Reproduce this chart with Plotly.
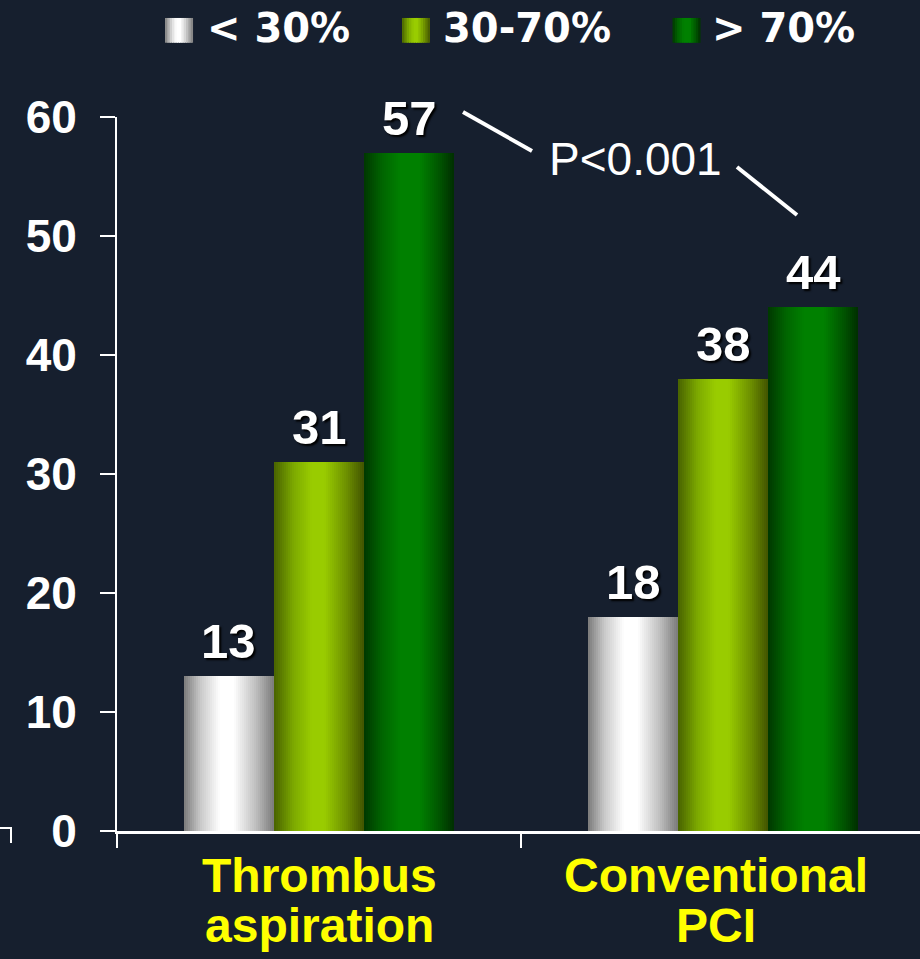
import plotly.graph_objects as go

# ---- data -------------------------------------------------------------
groups = ["Thrombus", "Conventional"]
group_lines = [["Thrombus", "aspiration"], ["Conventional", "PCI"]]
series_names = ["< 30%", "30-70%", "> 70%"]
below_30 = [13, 18]
between_30_70 = [31, 38]
above_70 = [57, 44]
y_ticks = [0, 10, 20, 30, 40, 50, 60]
p_value_text = "P<0.001"

series_values = [below_30, between_30_70, above_70]

# ---- styling ----------------------------------------------------------
BG = "#161f2e"
ARIAL = "Liberation Sans, Arial, sans-serif"
WIDE = "DejaVu Sans, Verdana, sans-serif"

# cylinder-like horizontal shading for each series: (position, rgb)
shading = [
    [(0.0, (122, 122, 122)), (0.18, (200, 200, 200)), (0.40, (255, 255, 255)),
     (0.55, (255, 255, 255)), (0.80, (190, 190, 190)), (1.0, (122, 122, 122))],
    [(0.0, (72, 98, 0)), (0.22, (125, 170, 0)), (0.42, (153, 204, 0)),
     (0.56, (153, 204, 0)), (0.80, (110, 145, 0)), (1.0, (66, 84, 0))],
    [(0.0, (0, 56, 0)), (0.20, (0, 100, 0)), (0.40, (0, 128, 0)),
     (0.62, (0, 128, 0)), (0.85, (0, 82, 0)), (1.0, (0, 46, 0))],
]

BAR_W = 0.223
series_offsets = [-BAR_W, 0.0, BAR_W]
N_SLICES = 45
label_xshift = [0, -7]


def shade(stops, t):
    for (p0, c0), (p1, c1) in zip(stops[:-1], stops[1:]):
        if p0 <= t <= p1:
            f = (t - p0) / (p1 - p0) if p1 > p0 else 0
            return "rgb(%d,%d,%d)" % tuple(round(a + (b - a) * f) for a, b in zip(c0, c1))
    return "rgb(%d,%d,%d)" % stops[-1][1]


x_pos = list(range(len(groups)))
fig = go.Figure()

# bars, drawn as thin vertical slices to build the shading
step = BAR_W / N_SLICES
for s, vals in enumerate(series_values):
    left = series_offsets[s] - BAR_W / 2
    for i in range(N_SLICES):
        t = (i + 0.5) / N_SLICES
        w = step if i == N_SLICES - 1 else step * 1.6
        fig.add_trace(go.Bar(
            x=x_pos, y=vals, width=w, offset=left + i * step,
            marker=dict(color=shade(shading[s], t), line=dict(width=0)),
            showlegend=False, hoverinfo="skip",
        ))

# value labels above each bar
for s, vals in enumerate(series_values):
    for g, v in enumerate(vals):
        fig.add_annotation(
            x=x_pos[g] + series_offsets[s], y=v, xref="x", yref="y",
            text="<b>%d</b>" % v, showarrow=False,
            xanchor="center", yanchor="bottom", yshift=6,
            font=dict(family=ARIAL, size=49, color="white",
                      shadow="2px 2px 2px #000000"),
        )

# category labels (two lines each)
for g, lines in enumerate(group_lines):
    for k, line in enumerate(lines):
        fig.add_annotation(
            x=x_pos[g], y=[-0.0623, -0.1324][k], xref="x", yref="paper",
            xshift=label_xshift[g],
            text="<b>%s</b>" % line, showarrow=False,
            xanchor="center", yanchor="middle",
            font=dict(family=ARIAL, size=48, color="#ffff00"),
        )

# legend: shaded squares + labels
legend_sq_x = [0.0598, 0.3549, 0.6918]
legend_txt_x = [0.1090, 0.4040, 0.7380]
SQ_W = 0.0349
for s, name in enumerate(series_names):
    n = 12
    for i in range(n):
        x0 = legend_sq_x[s] + SQ_W * i / n
        fig.add_shape(type="rect", xref="paper", yref="paper",
                      x0=x0, x1=x0 + SQ_W / n * (1.5 if i < n - 1 else 1.0),
                      y0=1.104, y1=1.1387, line=dict(width=0),
                      fillcolor=shade(shading[s], (i + 0.5) / n))
    fig.add_annotation(
        x=legend_txt_x[s], y=1.1245, xref="paper", yref="paper",
        text="<b>%s</b>" % name, showarrow=False, xanchor="left", yanchor="middle",
        font=dict(family=WIDE, size=40, color="white"),
    )

# significance note with its two connector strokes
fig.add_annotation(x=0.6463, y=0.9412, xref="paper", yref="paper",
                   text=p_value_text, showarrow=False,
                   xanchor="center", yanchor="middle",
                   font=dict(family=ARIAL, size=46, color="white"))
for x0, y0, x1, y1 in [(0.4309, 1.0070, 0.5168, 0.9524),
                       (0.7721, 0.9300, 0.8468, 0.8627)]:
    fig.add_shape(type="line", xref="paper", yref="paper",
                  x0=x0, y0=y0, x1=x1, y1=y1,
                  line=dict(color="white", width=4))

# small stray corner mark at the far left
fig.add_shape(type="path", xref="paper", yref="paper",
              path="M -0.1457 0.0042 L -0.1320 0.0042 L -0.1320 -0.0168",
              line=dict(color="white", width=2))

fig.update_layout(
    width=920, height=959,
    margin=dict(l=117, r=0, t=117, b=128, pad=0),
    paper_bgcolor=BG, plot_bgcolor=BG,
    barmode="overlay", bargap=0, showlegend=False,
    xaxis=dict(range=[-0.5, 1.487], tickvals=[-0.5, 0.5, 1.5],
               ticktext=["", "", ""], ticks="outside", ticklen=14,
               tickwidth=2, tickcolor="white", showline=True,
               linecolor="white", linewidth=3, showgrid=False,
               zeroline=False),
    yaxis=dict(range=[0, 60], tickvals=y_ticks, ticks="outside",
               ticklen=15, tickwidth=2, tickcolor="white", showline=True,
               linecolor="white", linewidth=2, showgrid=False,
               zeroline=False, ticklabelstandoff=14,
               tickfont=dict(family=ARIAL, size=46, color="white",
                             weight="bold")),
)

fig.write_html("out.html")
